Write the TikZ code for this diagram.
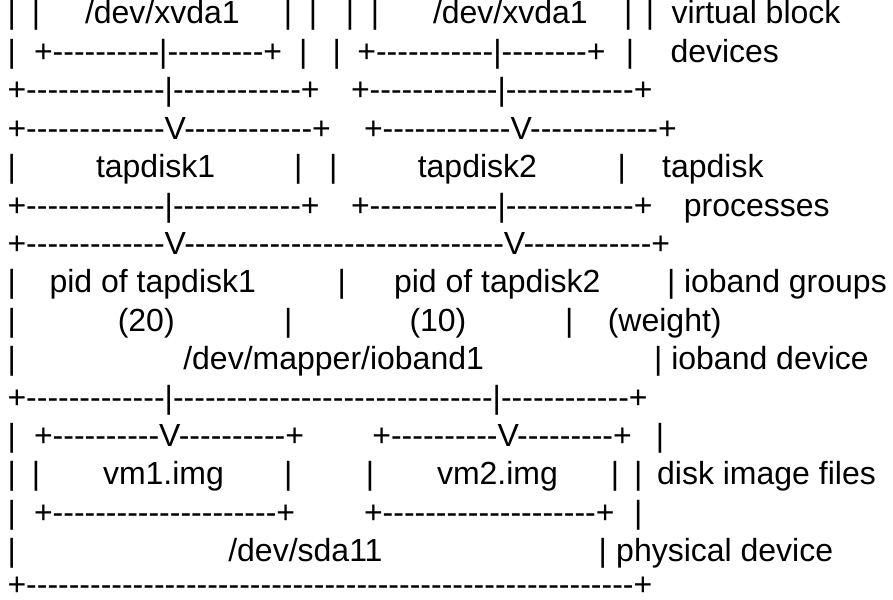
\documentclass[tikz,border=0pt]{standalone}
\usepackage{fontspec}
\newfontfamily\asciifont{Liberation Sans}[Ligatures=TeXOff]
\newcommand\dsh[1]{\ifnum#1>0 -\expandafter\dsh\expandafter{\the\numexpr#1-1\relax}\fi}
\begin{document}
\begin{tikzpicture}[x=1pt,y=1pt,
  txt/.style={anchor=base west, inner sep=0pt, outer sep=0pt, text=black,
              font=\asciifont\fontsize{32}{38}\selectfont}]
\fill[white] (0,0) rectangle (893,-599);
\useasboundingbox (0,0) rectangle (893,-599);
% row 1
\node[txt] (a1) at (7.5,-24) {|};
\node[txt] (a2) at (31.8,-24) {|};
\node[txt] (a3) at (85,-24) {/dev/xvda1};
\node[txt] (a4) at (283.8,-24) {|};
\node[txt] (a5) at (308.8,-24) {|};
\node[txt] (a6) at (345.8,-24) {|};
\node[txt] (a7) at (370.8,-24) {|};
\node[txt] (a8) at (433,-24) {/dev/xvda1};
\node[txt] (a9) at (624.1,-24) {|};
\node[txt] (a10) at (645.8,-24) {|};
\node[txt] (a11) at (671.5,-24) {virtual block};
% row 2
\node[txt] (b1) at (7.5,-62.4) {|};
\node[txt] (b2) at (34,-62.4) {+\dsh{10}|\dsh{9}+};
\node[txt] (b3) at (299.1,-62.4) {|};
\node[txt] (b4) at (332.5,-62.4) {|};
\node[txt] (b5) at (357.4,-62.4) {+\dsh{11}|\dsh{8}+};
\node[txt] (b6) at (625.8,-62.4) {|};
\node[txt] (b7) at (670.5,-62.4) {devices};
% row 3
\node[txt] (c1) at (7.5,-100.8) {+\dsh{13}|\dsh{12}+};
\node[txt] (c2) at (351,-100.8) {+\dsh{12}|\dsh{12}+};
% row 4
\node[txt] (d1) at (7.5,-139.2) {+\dsh{13}V\dsh{12}+};
\node[txt] (d2) at (364,-139.2) {+\dsh{12}V\dsh{12}+};
% row 5
\node[txt] (e1) at (7.5,-177.6) {|};
\node[txt] (e2) at (96,-177.6) {tapdisk1};
\node[txt] (e3) at (294.1,-177.6) {|};
\node[txt] (e4) at (329.1,-177.6) {|};
\node[txt] (e5) at (417.8,-177.6) {tapdisk2};
\node[txt] (e6) at (617.5,-177.6) {|};
\node[txt] (e7) at (662.2,-177.6) {tapdisk};
% row 6
\node[txt] (f1) at (7.5,-216) {+\dsh{13}|\dsh{12}+};
\node[txt] (f2) at (351,-216) {+\dsh{12}|\dsh{12}+};
\node[txt] (f3) at (683.9,-216) {processes};
% row 7
\node[txt] (g1) at (7.5,-254.4) {+\dsh{13}V\dsh{30}V\dsh{12}+};
% row 8
\node[txt] (h1) at (7.5,-292.8) {|};
\node[txt] (h2) at (49.6,-292.8) {pid of tapdisk1};
\node[txt] (h3) at (337.5,-292.8) {|};
\node[txt] (h4) at (394,-292.8) {pid of tapdisk2};
\node[txt] (h5) at (667,-292.8) {|};
\node[txt] (h6) at (684,-292.8) {ioband groups};
% row 9
\node[txt] (i1) at (7.5,-331.2) {|};
\node[txt] (i2) at (117.8,-331.2) {(20)};
\node[txt] (i3) at (284.1,-331.2) {|};
\node[txt] (i4) at (409.5,-331.2) {(10)};
\node[txt] (i5) at (565.1,-331.2) {|};
\node[txt] (i6) at (607.8,-331.2) {(weight)};
% row 10
\node[txt] (j1) at (7.5,-369.6) {|};
\node[txt] (j2) at (183.3,-369.6) {/dev/mapper/ioband1};
\node[txt] (j3) at (654.1,-369.6) {|};
\node[txt] (j4) at (671.3,-369.6) {ioband device};
% row 11
\node[txt] (k1) at (7.5,-408) {+\dsh{13}|\dsh{30}|\dsh{12}+};
% row 12
\node[txt] (l1) at (7.5,-446.4) {|};
\node[txt] (l2) at (34,-446.4) {+\dsh{10}V\dsh{10}+};
\node[txt] (l3) at (372.4,-446.4) {+\dsh{10}V\dsh{9}+};
\node[txt] (l4) at (655.8,-446.4) {|};
% row 13
\node[txt] (m1) at (7.5,-484.8) {|};
\node[txt] (m2) at (31.8,-484.8) {|};
\node[txt] (m3) at (103,-484.8) {vm1.img};
\node[txt] (m4) at (284.1,-484.8) {|};
\node[txt] (m5) at (365.8,-484.8) {|};
\node[txt] (m6) at (437,-484.8) {vm2.img};
\node[txt] (m7) at (610.8,-484.8) {|};
\node[txt] (m8) at (634.1,-484.8) {|};
\node[txt] (m9) at (657.1,-484.8) {disk image files};
% row 14
\node[txt] (n1) at (7.5,-523.2) {|};
\node[txt] (n2) at (34,-523.2) {+\dsh{21}+};
\node[txt] (n3) at (364,-523.2) {+\dsh{20}+};
\node[txt] (n4) at (634.1,-523.2) {|};
% row 15
\node[txt] (o1) at (7.5,-561.6) {|};
\node[txt] (o2) at (228.3,-561.6) {/dev/sda11};
\node[txt] (o3) at (598.5,-561.6) {|};
\node[txt] (o4) at (616.2,-561.6) {physical device};
% row 16
\node[txt] (p1) at (7.5,-595.5) {+\dsh{57}+};
\end{tikzpicture}
\end{document}
